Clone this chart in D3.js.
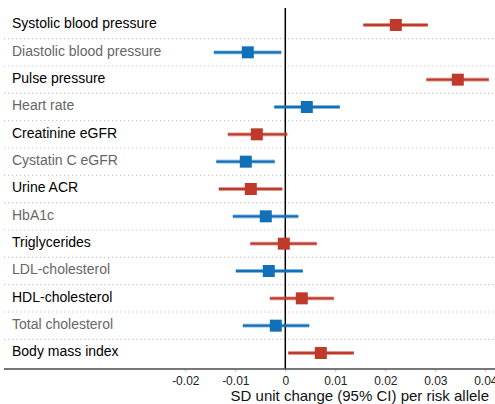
<!DOCTYPE html>
<html>
<head>
<meta charset="utf-8">
<script src="https://cdn.jsdelivr.net/npm/d3@7"></script>
<style>
  html, body { margin: 0; padding: 0; background: #fff; }
  svg { display: block; font-family: "Liberation Sans", Arial, sans-serif; }
</style>
</head>
<body>
<svg id="chart" width="495" height="404"></svg>
<script>
// Traits, per-allele effect estimates and 95% confidence limits (SD units)
const traits = [
  "Systolic blood pressure", "Diastolic blood pressure", "Pulse pressure",
  "Heart rate", "Creatinine eGFR", "Cystatin C eGFR", "Urine ACR", "HbA1c",
  "Triglycerides", "LDL-cholesterol", "HDL-cholesterol", "Total cholesterol",
  "Body mass index"
];
const estimates = [0.0221, -0.0075, 0.0345, 0.0043, -0.0057, -0.0079, -0.0069, -0.0039, -0.0003, -0.0033, 0.0033, -0.0019, 0.0071];
const lower     = [0.0156, -0.0143, 0.0282, -0.0022, -0.0115, -0.0138, -0.0133, -0.0105, -0.0070, -0.0099, -0.0031, -0.0085, 0.0006];
const upper     = [0.0285, -0.0008, 0.0407, 0.0109, 0.0004, -0.0021, -0.0006, 0.0026, 0.0063, 0.0035, 0.0097, 0.0048, 0.0137];
const tickValues = [-0.02, -0.01, 0, 0.01, 0.02, 0.03, 0.04];
const tickLabels = ["-0.02", "-0.01", "0", "0.01", "0.02", "0.03", "0.04"];
const axisTitle = "SD unit change (95% CI) per risk allele";

const RED = "#bf3a2b", BLUE = "#1170b8";
const FONT = "'Liberation Sans', Arial, sans-serif";
const rows = traits.map((t, i) => ({ trait: t, est: estimates[i], lo: lower[i], hi: upper[i], i }));

const svg = d3.select("#chart");
const x = d3.scaleLinear().domain([-0.05, 0.04]).range([35.3, 485.3]);
const y = d3.scalePoint().domain(traits).range([25, 353]);
const step = y.step();
const axisY = 369;

// dotted separators between rows
svg.append("g").selectAll("line")
  .data(traits.slice(1))
  .join("line")
  .attr("x1", 4).attr("x2", 495)
  .attr("y1", d => y(d) - step / 2).attr("y2", d => y(d) - step / 2)
  .attr("stroke", "#c9c9c9").attr("stroke-width", 1.2)
  .attr("stroke-dasharray", "1.3,2.7");

// trait labels, alternating black / gray
svg.append("g").selectAll("text")
  .data(rows)
  .join("text")
  .attr("x", 12).attr("y", d => y(d.trait) + 3.3)
  .attr("font-family", FONT)
  .attr("font-size", 14)
  .attr("fill", d => d.i % 2 === 0 ? "#000" : "#666")
  .text(d => d.trait);

// zero reference line
svg.append("line")
  .attr("x1", x(0)).attr("x2", x(0))
  .attr("y1", 8).attr("y2", axisY)
  .attr("stroke", "#000").attr("stroke-width", 1.5);

// x axis
const axis = d3.axisBottom(x)
  .tickValues(tickValues)
  .tickFormat((d, i) => tickLabels[i])
  .tickSize(3).tickPadding(4.5);
const gAxis = svg.append("g").attr("transform", `translate(0,${axisY})`).call(axis);
gAxis.select(".domain").remove();
gAxis.selectAll(".tick line").attr("stroke", "#bbb");
gAxis.selectAll(".tick text").attr("font-size", 12).attr("fill", "#222")
  .attr("font-family", FONT);
svg.append("line")
  .attr("x1", 4).attr("x2", 495)
  .attr("y1", axisY).attr("y2", axisY)
  .attr("stroke", "#4a4a4a").attr("stroke-width", 1.5);

svg.append("text")
  .attr("x", 489).attr("y", 401)
  .attr("text-anchor", "end")
  .attr("font-family", FONT)
  .attr("font-size", 15).attr("fill", "#111")
  .text(axisTitle);

// confidence intervals and point estimates
const col = d => d.i % 2 === 0 ? RED : BLUE;
const marks = svg.append("g").selectAll("g").data(rows).join("g");
marks.append("line")
  .attr("x1", d => x(d.lo)).attr("x2", d => x(d.hi))
  .attr("y1", d => y(d.trait)).attr("y2", d => y(d.trait))
  .attr("stroke", col).attr("stroke-opacity", 0.35).attr("stroke-width", 4.2);
marks.append("line")
  .attr("x1", d => x(d.lo)).attr("x2", d => x(d.hi))
  .attr("y1", d => y(d.trait)).attr("y2", d => y(d.trait))
  .attr("stroke", col).attr("stroke-width", 2.4);
marks.append("rect")
  .attr("x", d => x(d.est) - 6).attr("y", d => y(d.trait) - 6)
  .attr("width", 12).attr("height", 12)
  .attr("fill", col);
</script>
</body>
</html>
